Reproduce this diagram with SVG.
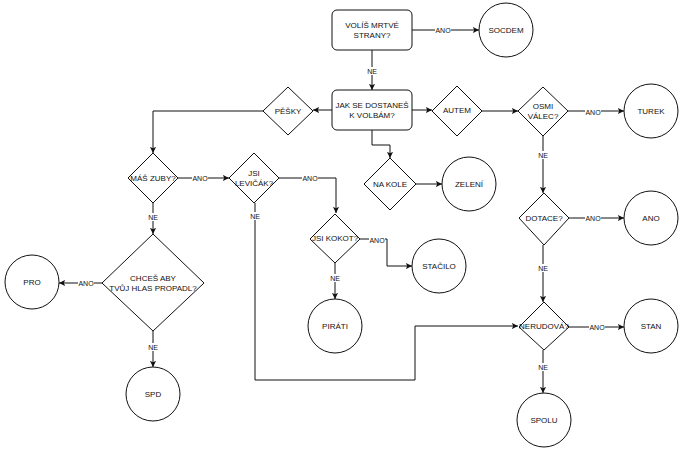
<svg xmlns="http://www.w3.org/2000/svg" width="690" height="456" viewBox="0 0 690 456">
<defs>
<style>
.n{fill:#fff;stroke:#111;stroke-width:1;stroke-linejoin:round}
.e{fill:none;stroke:#111;stroke-width:1;marker-end:url(#a)}
.t{font-family:"Liberation Sans",Arial,sans-serif;font-size:8px;text-anchor:middle;dominant-baseline:central;fill:#111}
.l{font-family:"Liberation Sans",Arial,sans-serif;font-size:7px;text-anchor:middle;dominant-baseline:central;fill:#111}
.lb{fill:#fff}
</style>
<marker id="a" viewBox="0 0 8 8" refX="7" refY="4" markerWidth="7" markerHeight="7" markerUnits="userSpaceOnUse" orient="auto">
<path d="M0,0.5 L7,4 L0,7.5 L1.5,4 z" fill="#111"/>
</marker>
</defs>
<rect width="690" height="456" fill="#fff"/>
<g id="connectors">
<path class="e" d="M412,30 H479"/>
<path class="e" d="M372,50 V90"/>
<path class="e" d="M332,110 H313"/>
<path class="e" d="M412,110 H432"/>
<path class="e" d="M482,111 H518"/>
<path class="e" d="M568,111 H624"/>
<path class="e" d="M543,136 V193"/>
<path class="e" d="M569,218 H624"/>
<path class="e" d="M543,245 V302"/>
<path class="e" d="M569,327 H624"/>
<path class="e" d="M543,350 V393"/>
<path class="e" d="M263,111 H153 V153"/>
<path class="e" d="M178,178 H229"/>
<path class="e" d="M279,178 H336 V213"/>
<path class="e" d="M255,203 V380 H415 V326 H518"/>
<path class="e" d="M360,239 H387 V266 H412"/>
<path class="e" d="M335,263 V299"/>
<path class="e" d="M153,203 V234"/>
<path class="e" d="M102,283 H59"/>
<path class="e" d="M153,331 V367"/>
<path class="e" d="M372,130 V145 H390 V158"/>
<path class="e" d="M416,184 H442"/>
<g id="labels">
<rect class="lb" x="435" y="26" width="16" height="8"/><text class="l" x="443" y="30">ANO</text>
<rect class="lb" x="366" y="67" width="12" height="8"/><text class="l" x="372" y="71">NE</text>
<rect class="lb" x="585" y="108" width="16" height="8"/><text class="l" x="593" y="112">ANO</text>
<rect class="lb" x="537" y="151" width="12" height="8"/><text class="l" x="543" y="155">NE</text>
<rect class="lb" x="585" y="214" width="16" height="8"/><text class="l" x="593" y="218">ANO</text>
<rect class="lb" x="537" y="264" width="12" height="8"/><text class="l" x="543" y="268">NE</text>
<rect class="lb" x="589" y="323" width="16" height="8"/><text class="l" x="597" y="327">ANO</text>
<rect class="lb" x="537" y="363" width="12" height="8"/><text class="l" x="543" y="367">NE</text>
<rect class="lb" x="192" y="174" width="16" height="8"/><text class="l" x="200" y="178">ANO</text>
<rect class="lb" x="302" y="174" width="16" height="8"/><text class="l" x="310" y="178">ANO</text>
<rect class="lb" x="249" y="212" width="12" height="8"/><text class="l" x="255" y="216">NE</text>
<rect class="lb" x="369" y="236" width="16" height="8"/><text class="l" x="377" y="240">ANO</text>
<rect class="lb" x="329" y="274" width="12" height="8"/><text class="l" x="335" y="278">NE</text>
<rect class="lb" x="147" y="213" width="12" height="8"/><text class="l" x="153" y="217">NE</text>
<rect class="lb" x="78" y="279" width="16" height="8"/><text class="l" x="86" y="283">ANO</text>
<rect class="lb" x="147" y="343" width="12" height="8"/><text class="l" x="153" y="347">NE</text>
</g>
</g>
<g id="volis"><rect class="n" x="332" y="10" width="80" height="40" rx="5"/><text class="t" x="372" y="25">VOLÍŠ MRTVÉ</text><text class="t" x="372" y="35">STRANY?</text></g>
<g id="socdem"><circle class="n" cx="506" cy="30" r="27"/><text class="t" x="506" y="30">SOCDEM</text></g>
<g id="jak"><rect class="n" x="332" y="90" width="80" height="40" rx="5"/><text class="t" x="372" y="105.5">JAK SE DOSTANEŠ</text><text class="t" x="372" y="115.5">K VOLBÁM?</text></g>
<g id="autem"><path class="n" d="M457,86 L482,111 L457,136 L432,111 Z"/><text class="t" x="457" y="110">AUTEM</text></g>
<g id="osmi"><path class="n" d="M543,87 L568,111 L543,136 L518,111 Z"/><text class="t" x="543" y="106">OSMI</text><text class="t" x="543" y="116">VÁLEC?</text></g>
<g id="turek"><circle class="n" cx="651" cy="111" r="27"/><text class="t" x="651" y="111">TUREK</text></g>
<g id="dotace"><path class="n" d="M544,193 L569,218 L544,245 L519,218 Z"/><text class="t" x="544" y="218">DOTACE?</text></g>
<g id="ano"><circle class="n" cx="651" cy="218" r="27"/><text class="t" x="651" y="218">ANO</text></g>
<g id="nerudova"><path class="n" d="M544,302 L569,327 L544,350 L519,327 Z"/><text class="t" x="544" y="326">NERUDOVÁ?</text></g>
<g id="stan"><circle class="n" cx="651" cy="326" r="27"/><text class="t" x="651" y="326">STAN</text></g>
<g id="spolu"><circle class="n" cx="544" cy="420" r="27"/><text class="t" x="544" y="420">SPOLU</text></g>
<g id="pesky"><path class="n" d="M288,87 L313,111 L288,135 L263,111 Z"/><text class="t" x="288" y="111">PĚŠKY</text></g>
<g id="maszuby"><path class="n" d="M153,153 L178,178 L153,203 L128,178 Z"/><text class="t" x="153" y="178">MÁŠ ZUBY?</text></g>
<g id="levicak"><path class="n" d="M254,153 L279,178 L254,203 L229,178 Z"/><text class="t" x="254" y="173">JSI</text><text class="t" x="254" y="183">LEVIČÁK?</text></g>
<g id="kokot"><path class="n" d="M335,214 L360,239 L335,263 L310,239 Z"/><text class="t" x="335" y="238">JSI KOKOT?</text></g>
<g id="stacilo"><circle class="n" cx="439" cy="266" r="27"/><text class="t" x="439" y="266">STAČILO</text></g>
<g id="pirati"><circle class="n" cx="335" cy="326" r="27"/><text class="t" x="335" y="326">PIRÁTI</text></g>
<g id="chces"><path class="n" d="M153,234 L204,283 L153,331 L102,283 Z"/><text class="t" x="153" y="278">CHCEŠ ABY</text><text class="t" x="153" y="288">TVŮJ HLAS PROPADL?</text></g>
<g id="pro"><circle class="n" cx="32" cy="282" r="27"/><text class="t" x="32" y="282">PRO</text></g>
<g id="spd"><circle class="n" cx="153" cy="394" r="27"/><text class="t" x="153" y="394">SPD</text></g>
<g id="nakole"><path class="n" d="M390,158 L416,184 L390,210 L364,184 Z"/><text class="t" x="390" y="184">NA KOLE</text></g>
<g id="zeleni"><circle class="n" cx="469" cy="184" r="27"/><text class="t" x="469" y="184">ZELENÍ</text></g>
</svg>
